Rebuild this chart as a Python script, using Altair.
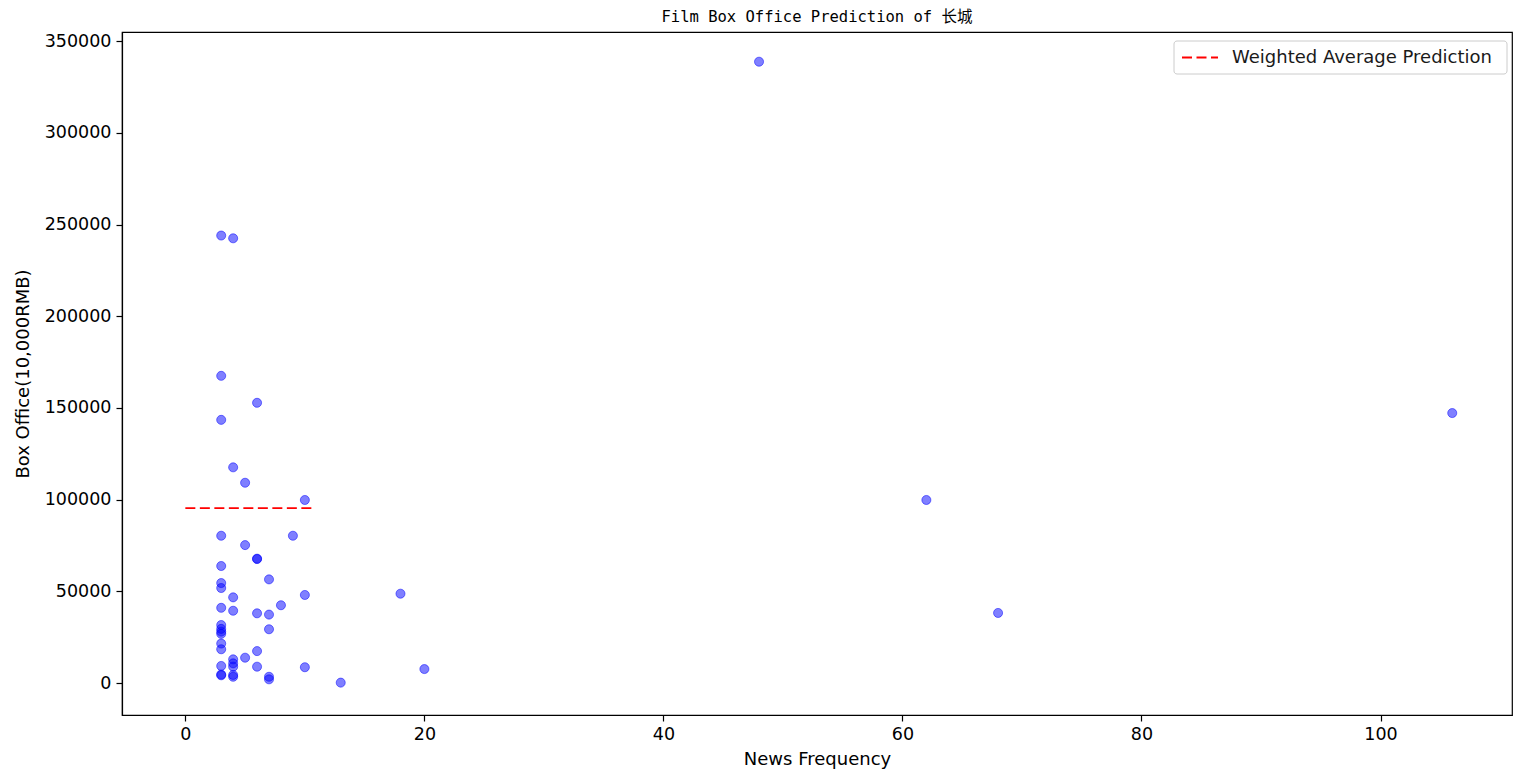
import altair as alt
import pandas as pd

# Scatter data: news frequency vs box office (10,000 RMB)
news_freq = [
    3, 3, 3, 3, 3, 3, 3, 3, 3, 3, 3, 3, 3, 3, 3, 3, 3,
    4, 4, 4, 4, 4, 4, 4, 4, 4,
    5, 5, 5,
    6, 6, 6, 6, 6, 6,
    7, 7, 7, 7, 7,
    8, 9,
    10, 10, 10,
    13, 18, 20, 48, 62, 68, 106,
]
box_office = [
    244000, 167500, 143500, 80300, 63800, 54500, 51800, 41000, 31600, 29500, 28000, 26800, 21500, 18400, 9300, 4600, 4200,
    242500, 117600, 46700, 39400, 12900, 10700, 8900, 4400, 3400,
    109200, 75200, 13800,
    152800, 67800, 67600, 38000, 17400, 8900,
    56500, 37300, 29300, 3400, 2000,
    42400, 80300,
    99800, 48000, 8600,
    200, 48700, 7600, 338800, 99800, 38200, 147200,
]

# Weighted average prediction line
pred_x = [0, 10.6]
pred_y = [95400, 95400]
pred_label = "Weighted Average Prediction"

x_ticks = [0, 20, 40, 60, 80, 100]
y_ticks = [0, 50000, 100000, 150000, 200000, 250000, 300000, 350000]

pts = pd.DataFrame({"freq": news_freq, "box": box_office})
line_df = pd.DataFrame({"freq": pred_x, "box": pred_y})
legend_df = pd.DataFrame({"label": [pred_label]})

xscale = alt.Scale(domain=[-5.3, 111], nice=False, zero=False)
yscale = alt.Scale(domain=[-17450, 355000], nice=False, zero=False)

xaxis = alt.Axis(title="News Frequency", values=x_ticks, grid=False, format="d",
                 tickSize=6, labelPadding=4, titlePadding=8)
yaxis = alt.Axis(title="Box Office(10,000RMB)", values=y_ticks, grid=False, format="d",
                 tickSize=6, labelPadding=5, titlePadding=12)

scatter = alt.Chart(pts).mark_point(
    filled=False, shape="circle", size=82, fill="blue", fillOpacity=0.5,
    stroke="blue", strokeOpacity=0.5, strokeWidth=1
).encode(
    x=alt.X("freq:Q", scale=xscale, axis=xaxis),
    y=alt.Y("box:Q", scale=yscale, axis=yaxis),
)

line = alt.Chart(line_df).mark_line(color="red", strokeDash=[10, 4.5], strokeWidth=1.8).encode(
    x=alt.X("freq:Q", scale=xscale),
    y=alt.Y("box:Q", scale=yscale),
)

# Legend box (decoration)
leg_box = alt.Chart(legend_df).mark_rect(
    fill="white", fillOpacity=0.8, stroke="#cccccc", strokeWidth=1, cornerRadius=3
).encode(
    x=alt.value(1052), x2=alt.value(1385), y=alt.value(9), y2=alt.value(42)
)
leg_line = alt.Chart(legend_df).mark_rule(
    color="red", strokeDash=[10, 4.5], strokeWidth=1.8
).encode(
    x=alt.value(1060), x2=alt.value(1096), y=alt.value(25.5)
)
leg_text = alt.Chart(legend_df).mark_text(
    align="left", baseline="middle", fontSize=18, font="DejaVu Sans", color="#1a1a1a"
).encode(
    x=alt.value(1110), y=alt.value(26), text="label:N"
)

chart = alt.layer(scatter, line, leg_box, leg_line, leg_text).properties(
    width=1390, height=683,
    title=alt.Title("Film Box Office Prediction of 长城",
                    font="DejaVu Sans Mono, Noto Sans CJK SC", fontSize=15.5,
                    fontWeight="normal", color="black", offset=7, anchor="middle"),
    padding={"left": 122, "top": 32, "right": 2, "bottom": 55},
    autosize=alt.AutoSizeParams(type="none"),
).configure_view(
    stroke="black", strokeWidth=1.2
).configure_axis(
    labelFont="DejaVu Sans", titleFont="DejaVu Sans", labelFontSize=17.5,
    titleFontSize=18, titleFontWeight="normal", labelColor="black",
    titleColor="black", domainColor="black", tickColor="black",
    domainWidth=1.2, tickWidth=1.2,
)

chart.save("out.html", embed_options={"renderer": "svg", "actions": False})
